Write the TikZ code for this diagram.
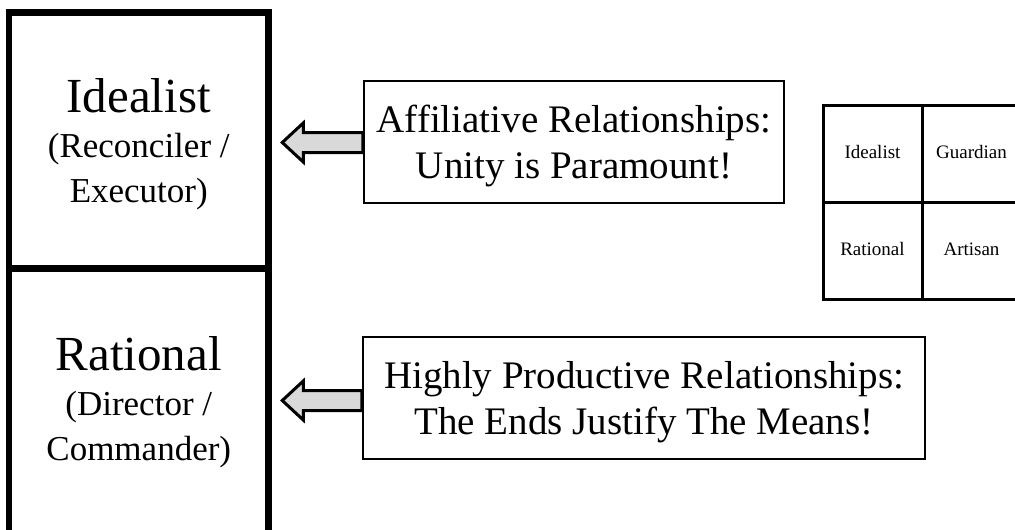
\documentclass[tikz,border=0pt]{standalone}
\usepackage{fontspec}
\setmainfont{Liberation Serif}
\usetikzlibrary{calc}
\definecolor{arrowgray}{RGB}{217,217,217}
\tikzstyle{typebox}=[draw,line width=6.5pt,minimum width=259.5pt,align=center,font=\fontsize{35}{45}\selectfont]
\tikzstyle{motto}=[draw,line width=2.5pt,minimum height=122pt,align=center,font=\fontsize{39}{46.5}\selectfont]
\tikzstyle{cell}=[draw,line width=3pt,minimum width=99pt,minimum height=97pt,text height=13pt,text depth=4pt,font=\fontsize{19}{22}\selectfont]
\tikzstyle{fatarrow}=[draw,line width=3pt,fill=arrowgray,line join=miter]

\begin{document}
\begin{tikzpicture}[x=1pt,y=-1pt]
  \useasboundingbox (0,0) rectangle (1015,530);
% temperaments
  \node[typebox,minimum height=256pt] (idealist) at (138.75,140.5)
    {\rule{0pt}{41pt}{\fontsize{49}{45}\selectfont Idealist}\\(Reconciler /\\Executor)};
  \node[typebox,minimum height=267.5pt] (rational) at (138.75,402.25)
    {{\fontsize{49}{45}\selectfont Rational}\\(Director /\\Commander)};
% relationships
  \node[motto,minimum width=420pt] (affiliative) at (574,142)
    {\rule{0pt}{35pt}Affiliative Relationships:\\Unity is Paramount!};
  \node[motto,minimum width=562pt] (productive) at (644,398)
    {\rule{0pt}{35pt}Highly Productive Relationships:\\The Ends Justify The Means!};
% arrows
  \draw[fatarrow] ($(affiliative.west)+(0,-9.5)$) -- ++(-59.5,0) -- ++(0,-9.5)
    -- ++(-21,19.5) -- ++(21,19.5) -- ++(0,-9.5) -- ++(59.5,0) -- cycle;
  \draw[fatarrow] ($(productive.west)+(0,-7.5)$) -- ++(-58.5,0) -- ++(0,-9.5)
    -- ++(-21,19.5) -- ++(21,19.5) -- ++(0,-9.5) -- ++(58.5,0) -- cycle;
% grid
  \node[cell] (gidealist) at (872.5,153.5) {Idealist};
  \node[cell] (gguardian) at (971.5,153.5) {Guardian};
  \node[cell] (grational) at (872.5,250.5) {Rational};
  \node[cell] (gartisan)  at (971.5,250.5) {Artisan};
\end{tikzpicture}
\end{document}
